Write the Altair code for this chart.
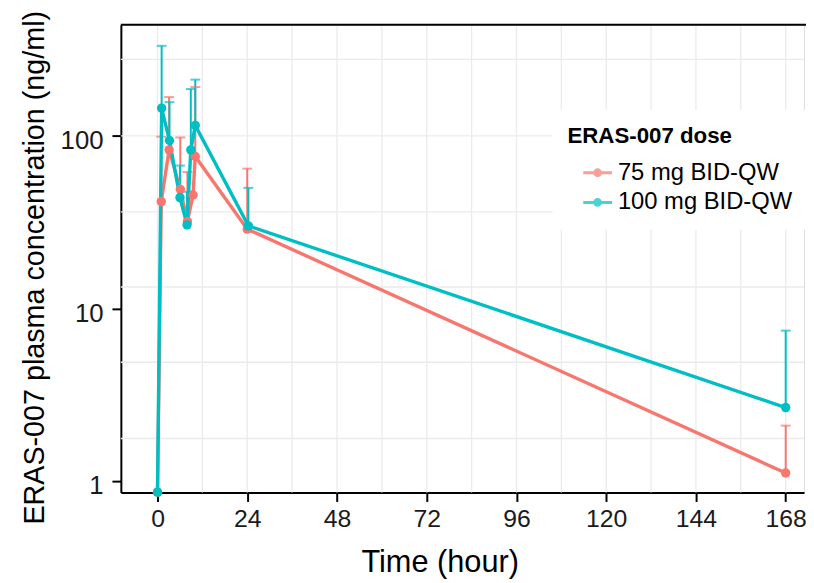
import altair as alt
import pandas as pd
import numpy as np

# ---- data ----
dose_labels = ["75 mg BID-QW", "100 mg BID-QW"]
dose_colors = ["#F8766D", "#00BFC4"]

time_75 = [0, 1.0, 3.1, 6.1, 8.0, 9.5, 10.1, 24.0, 168]
conc_75 = [0.86, 41.6, 83, 49, 31.9, 45.4, 76, 28.8, 1.11]
upper_75 = [np.nan, 99, 168, 98, 61.8, np.nan, 192, 64.6, 2.09]

time_100 = [0, 1.1, 3.2, 6.0, 7.9, 8.9, 10.1, 24.3, 168]
conc_100 = [0.86, 145, 94, 43.9, 30.5, 83, 115, 30.1, 2.66]
upper_100 = [np.nan, 333, 157, 67.3, 47.4, 187, 212, 50, 7.43]

x_ticks = [0, 24, 48, 72, 96, 120, 144, 168]
y_ticks = [1, 10, 100]
grid_x = [0, 12, 24, 36, 48, 60, 72, 84, 96, 108, 120, 132, 144, 156, 168]
grid_y = [278, 100, 36.3, 13.3, 4.87, 1.76]

df = pd.DataFrame({
    "time": time_75 + time_100,
    "conc": conc_75 + conc_100,
    "upper": upper_75 + upper_100,
    "dose": [dose_labels[0]] * len(time_75) + [dose_labels[1]] * len(time_100),
})
df_err = df.dropna(subset=["upper"])

W, H = 690, 472.5
x_scale = alt.Scale(domain=[-9.8, 172.9], nice=False, zero=False)
y_scale = alt.Scale(type="log", domain=[0.8555, 441.3], nice=False)

SANS = "Liberation Sans, Arial"

x_axis = alt.Axis(values=x_ticks, format="d", grid=False, domainColor="black", domainWidth=2,
                  tickColor="black", tickWidth=2, tickSize=9, labelFont=SANS, labelFontSize=25,
                  labelColor="#1a1a1a", labelPadding=5, title="Time (hour)", titleFont=SANS,
                  titleFontSize=31, titleFontWeight="normal", titleColor="black",
                  titleY=80, titleX=322, titleBaseline="alphabetic")
y_axis = alt.Axis(values=y_ticks, format="d", grid=False, domainColor="black", domainWidth=2,
                  tickColor="black", tickWidth=2, tickSize=9, labelFont=SANS, labelFontSize=26,
                  labelColor="#1a1a1a", labelPadding=9, labelOffset=5,
                  title="ERAS-007 plasma concentration (ng/ml)", titleFont=SANS,
                  titleFontSize=29, titleFontWeight="normal", titleColor="black",
                  titleAngle=270, titleX=-78, titleY=245, titleAlign="center",
                  titleBaseline="alphabetic")

color_scale = alt.Scale(domain=dose_labels, range=dose_colors)
sym_path = ("M-1,0H1"
            "M0.2,0A0.2,0.2 0 1,1 -0.2,0A0.2,0.2 0 1,1 0.2,0"
            "M0.09,0A0.09,0.09 0 1,1 -0.09,0A0.09,0.09 0 1,1 0.09,0")
legend = alt.Legend(title="ERAS-007 dose", orient="none", legendX=436, legendY=86, padding=15,
                    fillColor="white", titleFont=SANS, titleFontSize=22.5, titleFontWeight="bold",
                    titleColor="black", titlePadding=10, labelFont=SANS, labelFontSize=24,
                    labelColor="black", labelOffset=4.5, labelLimit=400, symbolType=sym_path,
                    symbolSize=841, symbolStrokeWidth=3, symbolOffset=14.5, rowPadding=2)
color_enc = alt.Color("dose:N", scale=color_scale, legend=legend)

base = alt.Chart(df)

vgrid = alt.Chart(pd.DataFrame({"g": grid_x})).mark_rule(color="#ebebeb", strokeWidth=1.3).encode(
    x=alt.X("g:Q", scale=x_scale, axis=x_axis))
hgrid = alt.Chart(pd.DataFrame({"g": grid_y})).mark_rule(color="#ebebeb", strokeWidth=1.3).encode(
    y=alt.Y("g:Q", scale=y_scale, axis=y_axis))
top_border = alt.Chart(pd.DataFrame({"a": [0]})).mark_rule(color="black", strokeWidth=2).encode(
    x=alt.value(0), x2=alt.value(W + 2), y=alt.value(0))

lines = base.mark_line(strokeWidth=3.4).encode(
    x=alt.X("time:Q", scale=x_scale, axis=x_axis),
    y=alt.Y("conc:Q", scale=y_scale, axis=y_axis),
    color=color_enc,
)
err = alt.Chart(df_err).mark_rule(strokeWidth=2).encode(
    x=alt.X("time:Q", scale=x_scale),
    y=alt.Y("conc:Q", scale=y_scale),
    y2="upper:Q",
    color=color_enc,
)
caps = alt.Chart(df_err).mark_tick(orient="horizontal", size=10, thickness=2).encode(
    x=alt.X("time:Q", scale=x_scale),
    y=alt.Y("upper:Q", scale=y_scale),
    color=color_enc,
)
points = base.mark_circle(size=90, opacity=1).encode(
    x=alt.X("time:Q", scale=x_scale),
    y=alt.Y("conc:Q", scale=y_scale),
    color=color_enc,
)

chart = alt.layer(vgrid, hgrid, top_border, err, caps, lines, points).properties(
    width=W, height=H,
    autosize=alt.AutoSizeParams(type="none"),
    padding={"left": 114, "top": 14, "right": 2, "bottom": 88},
).configure_view(stroke=None).configure(background="white")

chart.save("out.html", embed_options={"renderer": "svg", "actions": False})
